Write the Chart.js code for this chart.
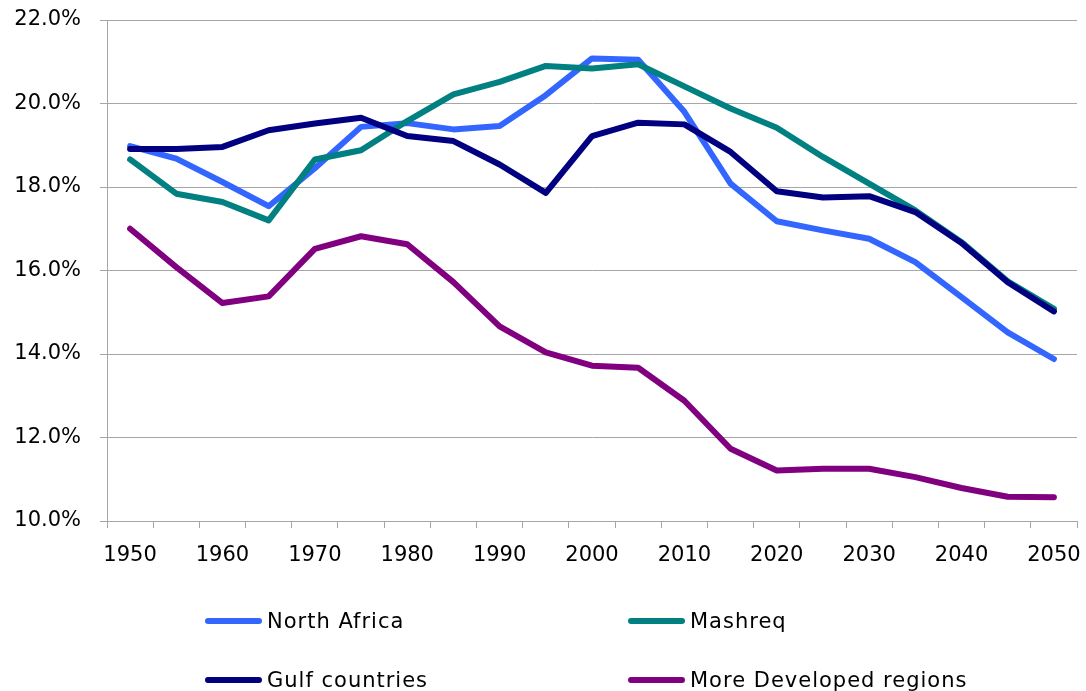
<!DOCTYPE html>
<html>
<head>
<meta charset="utf-8">
<script src="https://cdn.jsdelivr.net/npm/chart.js@4.4.1/dist/chart.umd.min.js"></script>
<style>
  html, body { margin: 0; padding: 0; background: #fff; }
  #wrap { position: relative; width: 1086px; height: 691px; overflow: hidden; }
  #c { position: absolute; left: 0; top: 0; }
  .leg { position: absolute; font-family: "DejaVu Sans", sans-serif; font-size: 21px; letter-spacing: 1px; color: #000; white-space: nowrap; line-height: 24px; }
  .leg .sw { position: absolute; left: 0; top: 9px; width: 57px; height: 6px; border-radius: 3px; }
  .leg .tx { position: absolute; left: 62px; top: 0; }
</style>
</head>
<body>
<div id="wrap">
  <canvas id="c" width="1086" height="691"></canvas>
  <div id="legend"></div>
</div>
<script>
const years = [1950,1955,1960,1965,1970,1975,1980,1985,1990,1995,2000,2005,2010,2015,2020,2025,2030,2035,2040,2045,2050];
const seriesNames = ['North Africa','Mashreq','Gulf countries','More Developed regions'];
const northAfrica = [18.98,18.68,18.12,17.54,18.45,19.44,19.53,19.38,19.46,20.20,21.08,21.05,19.80,18.08,17.18,16.96,16.76,16.20,15.36,14.52,13.88];
const mashreq     = [18.66,17.84,17.64,17.20,18.66,18.88,19.58,20.22,20.52,20.90,20.84,20.94,20.41,19.88,19.42,18.72,18.08,17.44,16.68,15.74,15.08];
const gulf        = [18.91,18.91,18.96,19.36,19.52,19.66,19.22,19.10,18.54,17.86,19.22,19.54,19.50,18.84,17.90,17.75,17.78,17.40,16.66,15.72,15.02];
const moreDev     = [17.00,16.08,15.22,15.38,16.52,16.82,16.63,15.72,14.66,14.04,13.72,13.67,12.88,11.73,11.21,11.25,11.25,11.05,10.79,10.58,10.57];
const yTicks = [10,12,14,16,18,20,22];

const colors = ['#3366FF','#008080','#000080','#800080'];
const values = [northAfrica, mashreq, gulf, moreDev];
const drawOrder = [4,3,2,1];

const gridColor = '#A6A6A6';
const font = { family: 'DejaVu Sans', size: 21 };

const datasets = seriesNames.map((n,i)=>({
  label: n,
  data: values[i],
  borderColor: colors[i],
  backgroundColor: colors[i],
  borderWidth: 6,
  pointRadius: 0,
  pointHoverRadius: 0,
  tension: 0,
  fill: false,
  borderCapStyle: 'round',
  borderJoinStyle: 'round',
  order: drawOrder[i]
}));

new Chart(document.getElementById('c'), {
  type: 'line',
  data: { labels: years.map(String), datasets },
  options: {
    responsive: false,
    animation: false,
    events: [],
    layout: { padding: { left: 0, right: 9, top: 0, bottom: 0 } },
    plugins: { legend: { display: false }, tooltip: { enabled: false } },
    scales: {
      x: {
        type: 'category',
        offset: true,
        afterFit: (s) => { s.paddingLeft = 0; s.paddingRight = 0; s.height = 170; },
        grid: { offset: true, drawOnChartArea: false, drawTicks: true, tickLength: 7, color: gridColor, lineWidth: 1 },
        border: { color: gridColor, width: 1 },
        ticks: {
          autoSkip: false, maxRotation: 0, minRotation: 0, padding: 15, color: '#000', font,
          callback: function(v, i) { const y = years[i]; return (y % 10 === 0) ? String(y) : ''; }
        }
      },
      y: {
        min: 10, max: 22,
        afterBuildTicks: (s) => { s.ticks = yTicks.map(v => ({ value: v })); },
        afterFit: (s) => { s.width = 107; s.paddingTop = 20; s.paddingBottom = 0; },
        grid: { drawTicks: true, tickLength: 7, color: gridColor, lineWidth: 1 },
        border: { color: gridColor, width: 1 },
        ticks: { padding: 19, color: '#000', font, callback: (v) => Number(v).toFixed(1) + '%' }
      }
    }
  }
});

// HTML legend built from the series
const legPos = [[205,609],[628,609],[205,668],[628,668]];
const legEl = document.getElementById('legend');
seriesNames.forEach((n,i)=>{
  const d = document.createElement('div');
  d.className = 'leg';
  d.style.left = legPos[i][0] + 'px';
  d.style.top = legPos[i][1] + 'px';
  d.innerHTML = '<span class="sw" style="background:' + colors[i] + '"></span><span class="tx"></span>';
  d.querySelector('.tx').textContent = n;
  legEl.appendChild(d);
});
</script>
</body>
</html>
